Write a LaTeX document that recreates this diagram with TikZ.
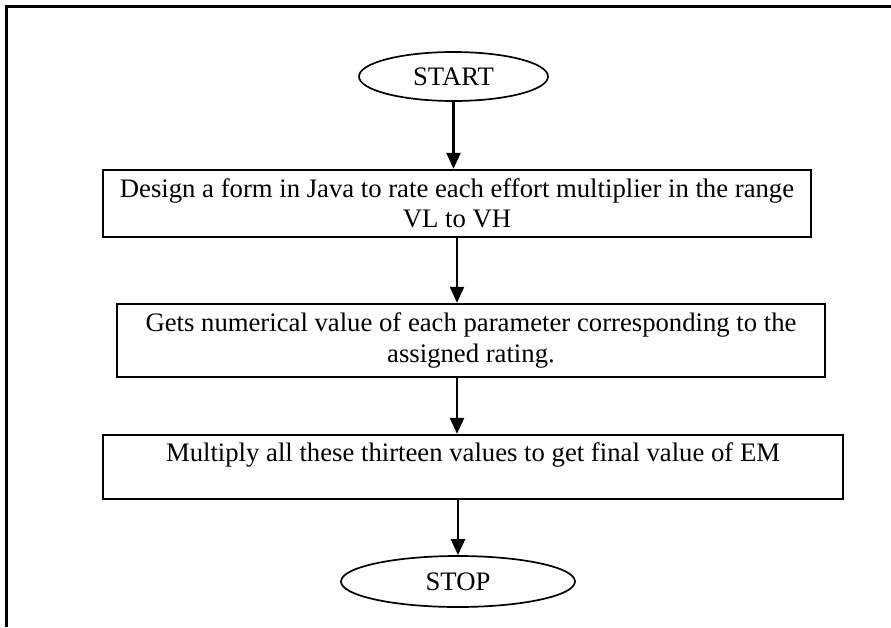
\documentclass[tikz,border=0pt]{standalone}
\usepackage{fontspec}
\setmainfont{Liberation Serif}
\usepackage{tikz}
\usetikzlibrary{
  positioning,
  shapes.geometric,
  arrows.meta
}
\tikzstyle{terminal}=[ellipse, draw, line width=1.7pt, inner sep=0pt]
\tikzstyle{process}=[rectangle, draw, line width=2.3pt, inner sep=0pt, align=center]
\tikzstyle{flow}=[-{Triangle[width=14pt, length=16pt]}, line width=2.2pt]

\begin{document}
\begin{tikzpicture}[x=1pt, y=-1pt, font=\fontsize{26.7}{30.5}\selectfont]
    \useasboundingbox (0,0) rectangle (891,627);

    % 枠線
    \draw[line width=2.2pt] (6.5,627) -- (6.5,6.5) -- (891,6.5);

    % 開始
    \node[terminal, minimum width=189pt, minimum height=49pt] (start) at (453.5,76.5) {START};

    % 処理
    \node[process, minimum width=708pt, minimum height=67pt] (design) at (457,203.5)
      {Design a form in Java to rate each effort multiplier in the range\\VL to VH};
    \node[process, minimum width=708pt, minimum height=73pt] (rating) at (471,340.5)
      {Gets numerical value of each parameter corresponding to the\\assigned rating.};
    \node[process, minimum width=740pt, minimum height=64pt] (multiply) at (473,467)
      {Multiply all these thirteen values to get final value of EM\\\mbox{}};

    % 終了
    \node[terminal, minimum width=234pt, minimum height=51pt] (stop) at (458,581.5) {STOP};

    % 矢印
    \draw[flow] (start.south) -- (start.south |- design.north);
    \draw[flow] (design.south) -- (design.south |- rating.north);
    \draw[flow] (rating.south -| design.south) -- (multiply.north -| design.south);
    \draw[flow] (multiply.south -| stop.north) -- (stop.north);
\end{tikzpicture}
\end{document}
